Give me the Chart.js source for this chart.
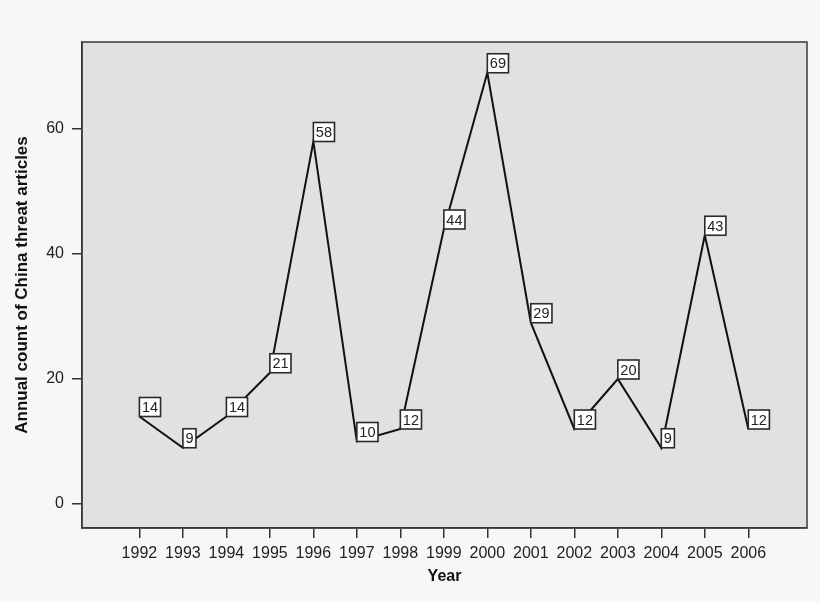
<!DOCTYPE html>
<html>
<head>
<meta charset="utf-8">
<script src="https://cdn.jsdelivr.net/npm/chart.js@4"></script>
<style>
  html, body { margin: 0; padding: 0; background: #f7f7f7; }
  #wrap { width: 820px; height: 602px; }
</style>
</head>
<body>
<div id="wrap"><canvas id="myChart" width="820" height="602"></canvas></div>
<script>
// Data
const years = [1992, 1993, 1994, 1995, 1996, 1997, 1998, 1999, 2000, 2001, 2002, 2003, 2004, 2005, 2006];
const counts = [14, 9, 14, 21, 58, 10, 12, 44, 69, 29, 12, 20, 9, 43, 12];
const yTicks = [0, 20, 40, 60];

const FONT = "'Liberation Sans', Arial, Helvetica, sans-serif";

// Grey plot panel with a frame
const panel = {
  id: 'panel',
  beforeDraw(chart) {
    const { ctx, chartArea: a } = chart;
    ctx.save();
    ctx.fillStyle = '#e1e1e1';
    ctx.fillRect(a.left, a.top, a.right - a.left, a.bottom - a.top);
    ctx.restore();
  },
  afterDraw(chart) {
    const { ctx, chartArea: a } = chart;
    ctx.save();
    ctx.strokeStyle = '#3a3a3a';
    ctx.lineWidth = 1.5;
    ctx.strokeRect(a.left, a.top, a.right - a.left, a.bottom - a.top);
    ctx.restore();
  }
};

// Boxed value labels, bottom-left corner on the point
const boxLabels = {
  id: 'boxLabels',
  afterDatasetsDraw(chart) {
    const { ctx } = chart;
    const meta = chart.getDatasetMeta(0);
    ctx.save();
    ctx.font = '14.5px ' + FONT;
    ctx.textAlign = 'center';
    ctx.textBaseline = 'middle';
    meta.data.forEach((pt, i) => {
      const txt = String(counts[i]);
      const w = ctx.measureText(txt).width + 5;
      const h = 19;
      const x = pt.x, y = pt.y - h;
      ctx.fillStyle = '#ffffff';
      ctx.fillRect(x, y, w, h);
      ctx.strokeStyle = '#2a2a2a';
      ctx.lineWidth = 1.6;
      ctx.strokeRect(x, y, w, h);
      ctx.fillStyle = '#222222';
      ctx.fillText(txt, x + w / 2, y + h / 2 + 1);
    });
    ctx.restore();
  }
};

new Chart(document.getElementById('myChart'), {
  type: 'line',
  data: {
    datasets: [{
      data: years.map((yr, i) => ({ x: yr, y: counts[i] })),
      borderColor: '#111111',
      borderWidth: 2,
      pointRadius: 0,
      tension: 0,
      fill: false
    }]
  },
  options: {
    responsive: false,
    animation: false,
    devicePixelRatio: 1,
    layout: { padding: { left: 0, top: 42, right: 13, bottom: 0 } },
    plugins: { legend: { display: false }, tooltip: { enabled: false } },
    scales: {
      x: {
        type: 'linear',
        min: 1990.68,
        max: 2007.35,
        afterBuildTicks(scale) { scale.ticks = years.map(v => ({ value: v })); },
        afterFit(scale) { scale.height = 74; },
        grid: { drawOnChartArea: false, drawTicks: true, tickLength: 10, color: '#333333', lineWidth: 1.5 },
        border: { display: true, color: '#3a3a3a', width: 1.5 },
        ticks: {
          color: '#222222',
          font: { family: FONT, size: 16 },
          padding: 6,
          maxRotation: 0,
          autoSkip: false,
          callback: v => String(v)
        },
        title: {
          display: true,
          text: 'Year',
          color: '#111111',
          font: { family: FONT, size: 16, weight: 'bold' },
          padding: { top: 0, bottom: 16 }
        }
      },
      y: {
        type: 'linear',
        min: -3.84,
        max: 73.92,
        afterBuildTicks(scale) { scale.ticks = yTicks.map(v => ({ value: v })); },
        afterFit(scale) { scale.width = 82; },
        grid: { drawOnChartArea: false, drawTicks: true, tickLength: 10, color: '#333333', lineWidth: 1.5 },
        border: { display: true, color: '#3a3a3a', width: 1.5 },
        ticks: {
          color: '#222222',
          font: { family: FONT, size: 16 },
          padding: 8,
          callback: v => String(v)
        },
        title: {
          display: true,
          text: 'Annual count of China threat articles',
          color: '#111111',
          font: { family: FONT, size: 17, weight: 'bold' },
          padding: { top: 12, bottom: 0 }
        }
      }
    }
  },
  plugins: [panel, boxLabels]
});
</script>
</body>
</html>
